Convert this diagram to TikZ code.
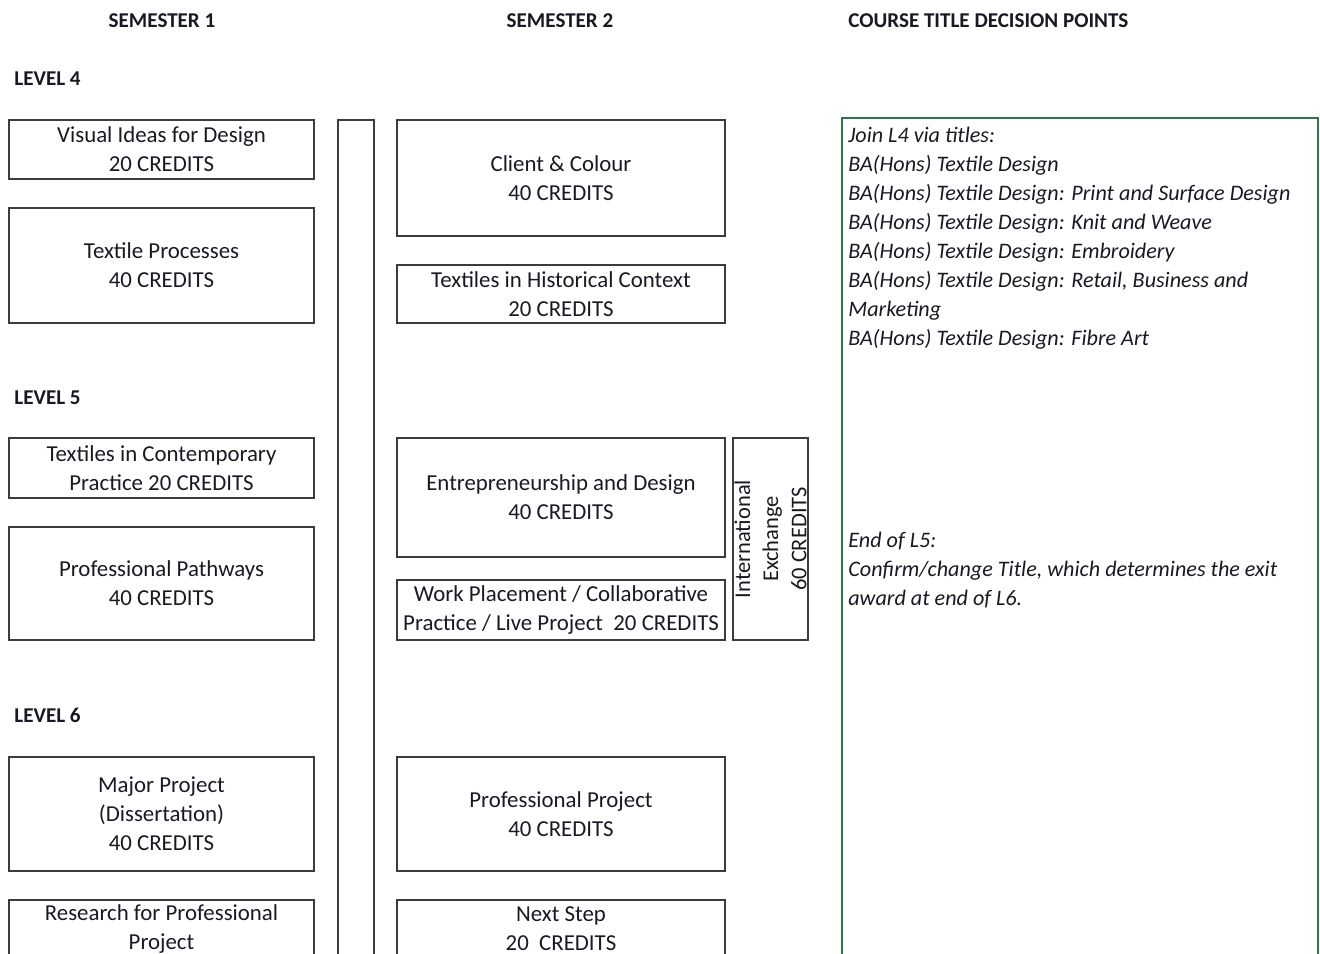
\documentclass[tikz,border=0pt]{standalone}
\usepackage{fontspec}
\setmainfont{Carlito}
\usetikzlibrary{positioning}
\definecolor{frame}{RGB}{60,60,60}
\definecolor{ink}{RGB}{25,25,35}
\definecolor{route}{RGB}{46,117,72}

\begin{document}
\begin{tikzpicture}[x=0.02cm, y=-0.02cm,
        box/.style={draw=frame, line width=0.9pt, align=center, text=ink, inner sep=0pt, font=\fontsize{13}{16.5}\selectfont},
        semone/.style={box, minimum width=6.1cm},
        semtwo/.style={box, minimum width=6.56cm},
        head/.style={text=ink, inner sep=0pt, font=\bfseries\fontsize{12}{14}\selectfont},
        note/.style={text=ink, inner sep=0pt, align=left, anchor=base west, font=\itshape\fontsize{12.6}{16.5}\selectfont}
    ]
        \clip (0,0) rectangle (1320,954);

        % headings
        \node[head, anchor=base] (sem1) at (162,27) {SEMESTER 1};
        \node[head, anchor=base] (sem2) at (560,27) {SEMESTER 2};
        \node[head, anchor=base west] (points) at (848,27) {COURSE TITLE DECISION POINTS};
        \node[head, anchor=base west] (lev4) at (14,85) {LEVEL 4};
        \node[head, anchor=base west] (lev5) at (14,404) {LEVEL 5};
        \node[head, anchor=base west] (lev6) at (14,722) {LEVEL 6};

        % level 4
        \node[semone, minimum height=1.18cm] (visual) at (161.5,149.5) {Visual Ideas for Design\\20 CREDITS};
        \node[semone, minimum height=2.3cm] (process) at (161.5,265.5) {Textile Processes\\40 CREDITS};
        \node[semtwo, minimum height=2.32cm] (client) at (561,178) {Client \& Colour\\40 CREDITS};
        \node[semtwo, minimum height=1.16cm] (history) at (561,294) {Textiles in Historical Context\\20 CREDITS};

        % level 5
        \node[semone, minimum height=1.2cm] (contemp) at (161.5,468) {Textiles in Contemporary\\Practice 20 CREDITS};
        \node[semone, minimum height=2.26cm] (pathway) at (161.5,583.5) {Professional Pathways\\40 CREDITS};
        \node[semtwo, minimum height=2.38cm] (enterprise) at (561,497.5) {Entrepreneurship and Design\\40 CREDITS};
        \node[semtwo, minimum height=1.2cm] (placement) at (561,610) {Work Placement / Collaborative\\Practice / Live Project~~20 CREDITS};
        \node[box, minimum width=1.5cm, minimum height=4.04cm] (exchange) at (770.5,539) {};
        \node[text=ink, inner sep=0pt, align=center, rotate=90, font=\fontsize{12.8}{16}\selectfont] (exchtext) at (exchange.center) {International\\Exchange\\60 CREDITS};

        % level 6
        \node[semone, minimum height=2.28cm] (major) at (161.5,814) {Major Project\\(Dissertation)\\40 CREDITS};
        \node[semtwo, minimum height=2.28cm] (proproject) at (561,814) {Professional Project\\40 CREDITS};
        \node[semone, minimum height=1.16cm] (research) at (161.5,929) {Research for Professional\\Project};
        \node[semtwo, minimum height=1.16cm] (nextstep) at (561,929) {Next Step\\20~~CREDITS};

        % divider and decision points
        \node[box, minimum width=0.72cm, minimum height=17.6cm] (bar) at (356,560) {};
        \node[draw=route, line width=1.5pt, minimum width=9.52cm, minimum height=17.8cm, inner sep=0pt] (decide) at (1080,563) {};
        \node[note] (join) at (848,345) {Join L4 via titles:\\
            BA(Hons) Textile Design\\
            BA(Hons) Textile Design: Print and Surface Design\\
            BA(Hons) Textile Design: Knit and Weave\\
            BA(Hons) Textile Design: Embroidery\\
            BA(Hons) Textile Design: Retail, Business and\\
            Marketing\\
            BA(Hons) Textile Design: Fibre Art};
        \node[note] (endl5) at (848,605) {End of L5:\\
            Confirm/change Title, which determines the exit\\
            award at end of L6.};
    \end{tikzpicture}
\end{document}
